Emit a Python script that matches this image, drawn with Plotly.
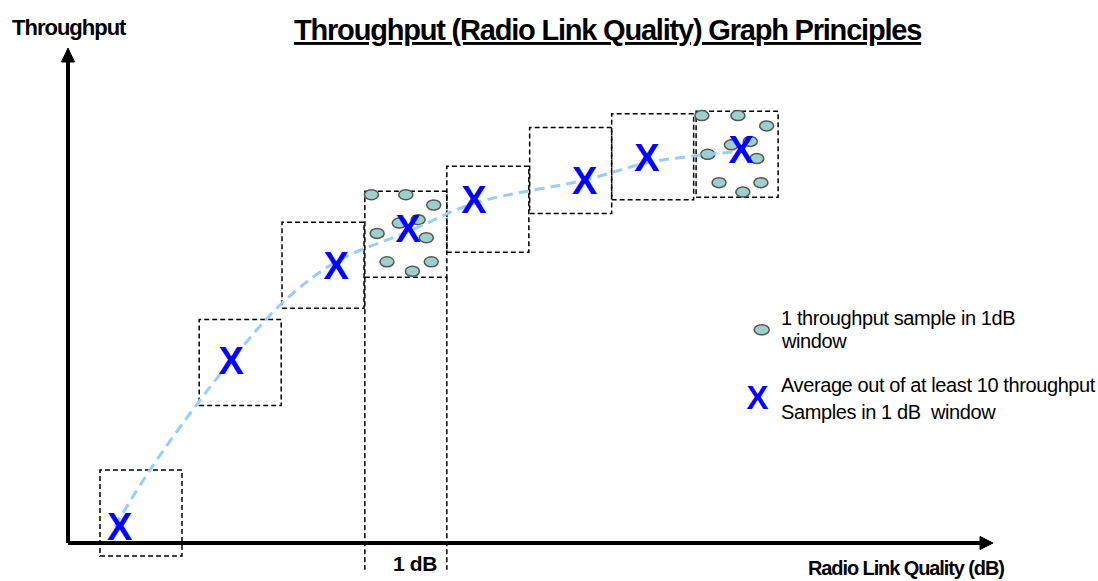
import plotly.graph_objects as go

# ---------------- data (dB on x, throughput units on y) ----------------
window_start_db = [0.39, 1.60, 2.61, 3.62, 4.62, 5.63, 6.63, 7.66]
window_low_tp = [-0.15, 1.60, 2.73, 3.09, 3.38, 3.83, 3.99, 4.02]
WINDOW_W = 1.0   # 1 dB window
WINDOW_H = 1.0

avg_db = [0.63, 1.99, 3.27, 4.15, 4.95, 6.30, 7.06, 8.21]
avg_tp = [0.19, 2.12, 3.23, 3.66, 3.99, 4.21, 4.48, 4.57]

trend_db = [0.57, 1.00, 1.61, 1.99, 2.59, 3.27, 4.15, 4.95, 6.30, 7.06, 7.71, 8.17]
trend_tp = [0.19, 0.85, 1.66, 2.12, 2.77, 3.27, 3.62, 3.95, 4.22, 4.42, 4.51, 4.55]

samples_a_db = [3.70, 4.12, 4.46, 4.04, 4.27, 3.77, 4.37, 3.89, 4.43, 4.20]
samples_a_tp = [4.05, 4.05, 3.93, 3.72, 3.76, 3.60, 3.55, 3.27, 3.27, 3.16]
samples_b_db = [7.73, 8.17, 8.52, 8.09, 8.32, 7.80, 8.40, 7.94, 8.45, 8.23]
samples_b_tp = [4.97, 4.97, 4.85, 4.63, 4.67, 4.52, 4.47, 4.19, 4.19, 4.08]

legend_texts = ["1 throughput sample in 1dB", "window",
                "Average out of at least 10 throughput",
                "Samples in 1 dB\u00a0 window"]

# ---------------- scale helpers ----------------
PX_DB = 82.0   # pixels per dB
PX_TP = 86.0   # pixels per throughput unit
W, H = 1098, 581
X0PX, Y0PX = 68, 543
X_GLYPH_SHIFT = 4 / PX_TP   # glyph centring correction for the X marks

FONT = "Liberation Sans, Arial, sans-serif"
BLUE = "#0000FF"
CURVE = "#99CCFF"
DOT_FILL = "#9DCFCB"
DOT_LINE = "#555555"

fig = go.Figure()

shapes = []
# dashed 1 dB windows
for xs, yl in zip(window_start_db, window_low_tp):
    shapes.append(dict(type="rect", xref="x", yref="y", x0=xs, x1=xs + WINDOW_W,
                       y0=yl, y1=yl + WINDOW_H, layer="below",
                       line=dict(color="black", width=1.5, dash="5px,3px")))
# extension lines for the highlighted 1 dB window
k = 3
for xv in (window_start_db[k], window_start_db[k] + WINDOW_W):
    shapes.append(dict(type="line", xref="x", yref="y", x0=xv, x1=xv,
                       y0=window_low_tp[k], y1=-0.31, layer="below",
                       line=dict(color="black", width=1.5, dash="5px,3px")))

# sample ellipses
def ellipse(d, t, rw=7, rh=5):
    return dict(type="circle", xref="x", yref="y",
                x0=d - rw / PX_DB, x1=d + rw / PX_DB,
                y0=t - rh / PX_TP, y1=t + rh / PX_TP,
                fillcolor=DOT_FILL, line=dict(color=DOT_LINE, width=1.5), layer="below")

for d, t in list(zip(samples_a_db, samples_a_tp)) + list(zip(samples_b_db, samples_b_tp)):
    shapes.append(ellipse(d, t))
# legend dot
shapes.append(ellipse(8.46, 2.48, 7.5, 5))

# axes with arrows
y_top = (Y0PX - 60) / PX_TP
x_right = (982 - X0PX) / PX_DB
shapes.append(dict(type="line", xref="x", yref="y", x0=0, x1=0, y0=0, y1=y_top,
                   line=dict(color="black", width=4)))
shapes.append(dict(type="line", xref="x", yref="y", x0=0, x1=x_right, y0=0, y1=0,
                   line=dict(color="black", width=4)))
tipy = (Y0PX - 48) / PX_TP
basey = (Y0PX - 62) / PX_TP
hw = 6.5 / PX_DB
shapes.append(dict(type="path", xref="x", yref="y",
                   path=f"M {-hw} {basey} L 0 {tipy} L {hw} {basey} Z",
                   fillcolor="black", line=dict(color="black", width=1)))
tipx = (993 - X0PX) / PX_DB
basex = (980 - X0PX) / PX_DB
hh = 6.5 / PX_TP
shapes.append(dict(type="path", xref="x", yref="y",
                   path=f"M {basex} {-hh} L {tipx} 0 L {basex} {hh} Z",
                   fillcolor="black", line=dict(color="black", width=1)))

# trend curve
fig.add_trace(go.Scatter(x=trend_db, y=trend_tp, mode="lines",
                         line=dict(color=CURVE, width=3, dash="10px,6px", shape="spline"),
                         hoverinfo="skip", showlegend=False))
# averages
fig.add_trace(go.Scatter(x=avg_db, y=[t - X_GLYPH_SHIFT for t in avg_tp], mode="text",
                         text=["<b>X</b>"] * len(avg_db),
                         textposition="middle center",
                         textfont=dict(family=FONT, size=38, color=BLUE),
                         hoverinfo="skip", showlegend=False))
# legend X
fig.add_trace(go.Scatter(x=[8.41], y=[1.70 - X_GLYPH_SHIFT], mode="text", text=["<b>X</b>"],
                         textposition="middle center",
                         textfont=dict(family=FONT, size=33, color=BLUE),
                         hoverinfo="skip", showlegend=False))

def sp(txt, ls):
    return f'<span style="letter-spacing:{ls}px">{txt}</span>'

annotations = [
    dict(x=6.58, y=5.965, text=sp("<b>Throughput (Radio Link Quality) Graph Principles</b>", -1.2),
         font=dict(family=FONT, size=29, color="black", lineposition="under"),
         xanchor="center", yanchor="middle"),
    dict(x=0.02, y=6.0, text=sp("<b>Throughput</b>", -1.0),
         font=dict(family=FONT, size=22, color="black"), xanchor="center", yanchor="middle"),
    dict(x=10.22, y=-0.29, text=sp("<b>Radio Link Quality (dB)</b>", -1.1),
         font=dict(family=FONT, size=20, color="black"), xanchor="center", yanchor="middle"),
    dict(x=4.23, y=-0.244, text=sp("<b>1 dB</b>", -0.4),
         font=dict(family=FONT, size=21, color="black"), xanchor="center", yanchor="middle"),
]
legend_y = [2.62, 2.35, 1.84, 1.52]
for txt, yy in zip(legend_texts, legend_y):
    annotations.append(dict(x=(779 - X0PX) / PX_DB, y=yy, text=sp(txt, -0.4),
                            font=dict(family=FONT, size=20, color="black"),
                            xanchor="left", yanchor="middle"))
for a in annotations:
    a.update(xref="x", yref="y", showarrow=False)

fig.update_layout(
    width=W, height=H, margin=dict(l=0, r=0, t=0, b=0),
    paper_bgcolor="white", plot_bgcolor="white",
    xaxis=dict(range=[-X0PX / PX_DB, (W - X0PX) / PX_DB], visible=False, fixedrange=True),
    yaxis=dict(range=[-(H - Y0PX) / PX_TP, Y0PX / PX_TP], visible=False, fixedrange=True),
    shapes=shapes, annotations=annotations, showlegend=False,
)

fig.write_html("out.html", config={"displayModeBar": False},
               post_script="document.body.style.margin='0';document.body.style.overflow='hidden';")
